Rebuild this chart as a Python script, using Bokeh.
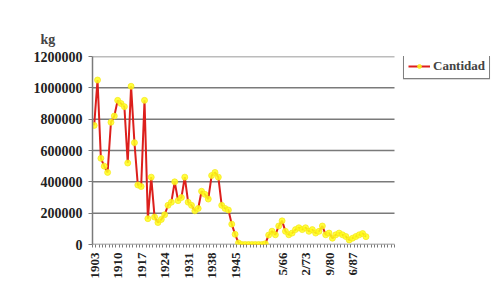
import math
from bokeh.plotting import figure
from bokeh.models import (FixedTicker, NumeralTickFormatter, Range1d, Legend,
                          LegendItem, ColumnDataSource, BoxAnnotation)
from bokeh.embed import file_html
from bokeh.resources import INLINE

# ---- data ----
categories = [str(y) for y in range(1903, 1946)] + \
             [f"{y}/{(y + 1) % 100:02d}" for y in range(1952, 1999)]

cantidad = [
    760000, 1050000, 550000, 500000, 460000, 780000, 820000, 920000, 900000, 880000,
    520000, 1010000, 650000, 380000, 370000, 920000, 165000, 430000, 175000, 140000,
    160000, 190000, 250000, 270000, 400000, 280000, 300000, 430000, 270000, 250000,
    215000, 230000, 340000, 320000, 290000, 440000, 460000, 430000, 250000, 230000,
    220000, 130000, 65000, 10000, 0, 0, 0, 0, 0, 0,
    0, 5000, 60000, 85000, 62000, 118000, 151000, 84000, 62000, 73000,
    95000, 107000, 95000, 107000, 84000, 95000, 73000, 84000, 118000, 62000,
    73000, 40000, 62000, 73000, 62000, 51000, 29000, 40000, 51000, 62000,
    70000, 50000,
]

label_idx = [0, 7, 14, 21, 28, 35, 42, 56, 63, 70, 77]
tick_labels = {i: categories[i][-4:] for i in label_idx}   # visible (clipped) part
y_ticks = [0, 200000, 400000, 600000, 800000, 1000000, 1200000]

n_cat = len(categories)
src = ColumnDataSource(dict(x=list(range(len(cantidad))), y=cantidad))
grid_src = ColumnDataSource(dict(x0=[-0.5] * len(y_ticks), x1=[n_cat - 0.5] * len(y_ticks),
                                 y=y_ticks))

FONT = "Liberation Serif"
W = 495
FRAME_L, FRAME_R = 92, 494
FRAME_T, FRAME_B = 56, 244
Y_MAX = 1200000
CAT_PX = 302 / n_cat                      # width of one category on the axis
x_end = -0.5 + (FRAME_R - FRAME_L) / CAT_PX  # frame extends under the legend

p = figure(width=W, height=281, output_backend="svg", toolbar_location=None,
           x_range=Range1d(-0.5, x_end),
           y_range=Range1d(0, Y_MAX),
           min_border_left=FRAME_L, min_border_top=FRAME_T, min_border_bottom=37,
           min_border_right=W - FRAME_R)

p.title.text = "kg"
p.title.text_font = FONT
p.title.text_font_size = "14px"
p.title.text_font_style = "bold"
p.title.align = "left"
p.title.offset = -52
p.title.standoff = 20

p.outline_line_color = None
p.background_fill_color = "white"
p.border_fill_color = "white"

# grid lines limited to the category span
p.xgrid.visible = False
p.ygrid.visible = False
p.segment(x0="x0", x1="x1", y0="y", y1="y", source=grid_src,
          line_color="#7a7a7a", line_width=1.5)

# y axis
p.yaxis.ticker = FixedTicker(ticks=y_ticks)
p.yaxis.formatter = NumeralTickFormatter(format="0")
p.yaxis.major_label_text_font = FONT
p.yaxis.major_label_text_font_style = "bold"
p.yaxis.major_label_text_font_size = "14px"
p.yaxis.major_label_text_color = "#222222"
p.yaxis.axis_line_color = "#7a7a7a"
p.yaxis.axis_line_width = 1.5
p.yaxis.major_tick_line_color = "#7a7a7a"
p.yaxis.major_tick_out = 4
p.yaxis.major_tick_in = 0
p.yaxis.minor_tick_line_color = None
p.yaxis.major_label_standoff = 6

# x axis
p.xaxis.ticker = FixedTicker(ticks=label_idx,
                             minor_ticks=[k - 0.5 for k in range(n_cat + 1)])
p.xaxis.major_label_overrides = tick_labels
p.xaxis.major_label_orientation = math.pi / 2
p.xaxis.major_label_text_font = FONT
p.xaxis.major_label_text_font_style = "bold"
p.xaxis.major_label_text_font_size = "13px"
p.xaxis.major_label_text_color = "#222222"
p.xaxis.axis_line_color = None
p.xaxis.major_tick_line_color = None
p.xaxis.minor_tick_line_color = "#7a7a7a"
p.xaxis.minor_tick_out = 3
p.xaxis.minor_tick_in = 0
p.xaxis.major_label_standoff = 2

# series
ln = p.line("x", "y", source=src, line_color="#dc1f1c", line_width=2)
sc = p.scatter("x", "y", source=src, marker="circle", size=6,
               fill_color="#ffff1a", line_color="#f5e61a", fill_alpha=0.85,
               line_alpha=0.7)

LEG_L, LEG_R, LEG_T, LEG_B = 403, 489, 57, 79
legend = Legend(items=[LegendItem(label="Cantidad", renderers=[ln, sc])],
                location=(LEG_L - FRAME_L, FRAME_B - LEG_B), margin=0, padding=4, spacing=0,
                glyph_width=22, glyph_height=10, label_height=10,
                label_standoff=3,
                label_text_font=FONT, label_text_font_style="bold",
                label_text_font_size="13px",
                border_line_color="#808080", border_line_width=1.5,
                border_line_alpha=1.0,
                background_fill_color="white", background_fill_alpha=1.0)
p.add_layout(legend, "center")

# visible frame around the legend (pixel layout converted through the ranges)
px_to_x = lambda px: -0.5 + (px - FRAME_L) / CAT_PX
px_to_y = lambda py: Y_MAX * (FRAME_B - py) / (FRAME_B - FRAME_T)
p.add_layout(BoxAnnotation(left=px_to_x(LEG_L), right=px_to_x(LEG_R),
                           bottom=px_to_y(LEG_B), top=px_to_y(LEG_T),
                           fill_alpha=0, line_color="#808080", line_width=1.2,
                           level="overlay", editable=False))

open("out.html", "w").write(file_html(p, INLINE))
